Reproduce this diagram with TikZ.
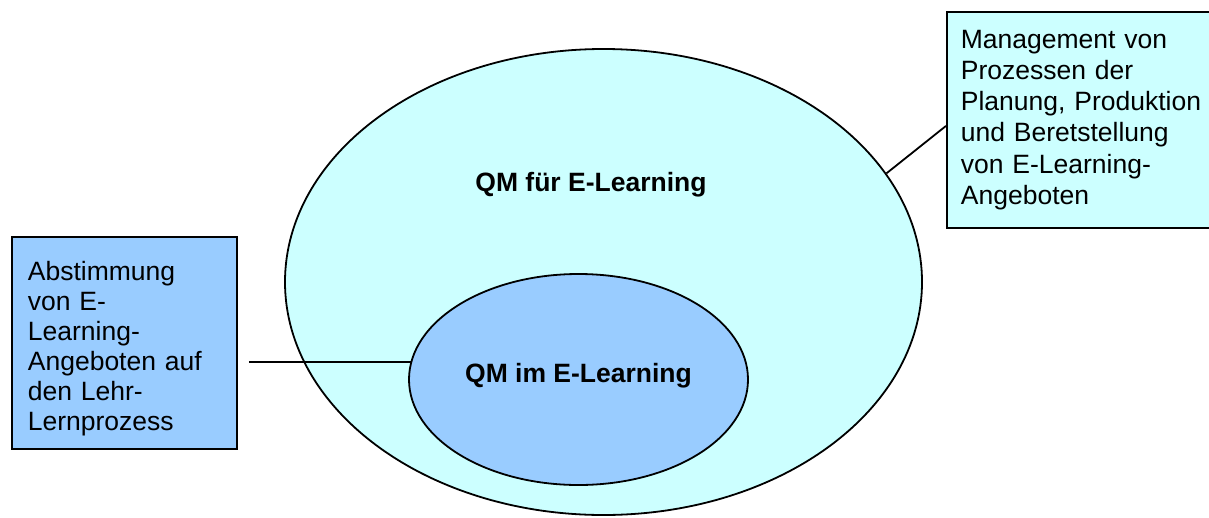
\documentclass[tikz,border=0pt]{standalone}
\usepackage{fontspec}
\setmainfont{Liberation Sans}
\usetikzlibrary{shapes.geometric,positioning,calc}

\definecolor{paleCyan}{HTML}{CCFFFF}
\definecolor{skyBlue}{HTML}{99CCFF}

\begin{document}
\begin{tikzpicture}[
  x=1pt, y=-1pt,
  field/.style={draw, ellipse, line width=1.8pt, inner sep=0pt},
  note/.style={draw, line width=1.8pt, anchor=north west, align=left, inner ysep=0pt,
               font=\fontsize{26.5}{31.3}\selectfont},
  title/.style={font=\fontsize{26.5}{30}\selectfont\bfseries},
  link/.style={line width=1.8pt}
]
\clip (0,0) rectangle (1209,517);

% the two nested fields
\node[field, fill=paleCyan, minimum width=637pt, minimum height=466pt] (outer) at (603.5,282) {};
\node[field, fill=skyBlue, minimum width=339pt, minimum height=211pt] (inner) at (578.5,379.5) {};

\node[title] (outertext) at (591,185) {QM für E-Learning};
\node[title] (innertext) at (578.5,376) {QM im E-Learning};

% explanatory notes
\node[note, fill=skyBlue, inner xsep=16pt, text width=193pt, minimum height=212pt,
      font=\fontsize{26.5}{30}\selectfont] (abst) at (11,236)
  {\rule{0pt}{31pt}Abstimmung\\von E-\\Learning-\\Angeboten auf\\den Lehr-\\Lernprozess};
\node[note, fill=paleCyan, inner xsep=14pt, text width=250pt, minimum height=216pt] (mgmt) at (946,11)
  {Management von\\Prozessen der\\Planung, Produktion\\und Beretstellung\\von E-Learning-\\Angeboten};

\coordinate (lfoot) at ($(abst.east)+(11,19)$);
\draw[link] (lfoot) -- (lfoot -| inner.173.7);
\draw[link] (outer.21.3) -- ($(mgmt.west)+(0,6)$);

\end{tikzpicture}
\end{document}
